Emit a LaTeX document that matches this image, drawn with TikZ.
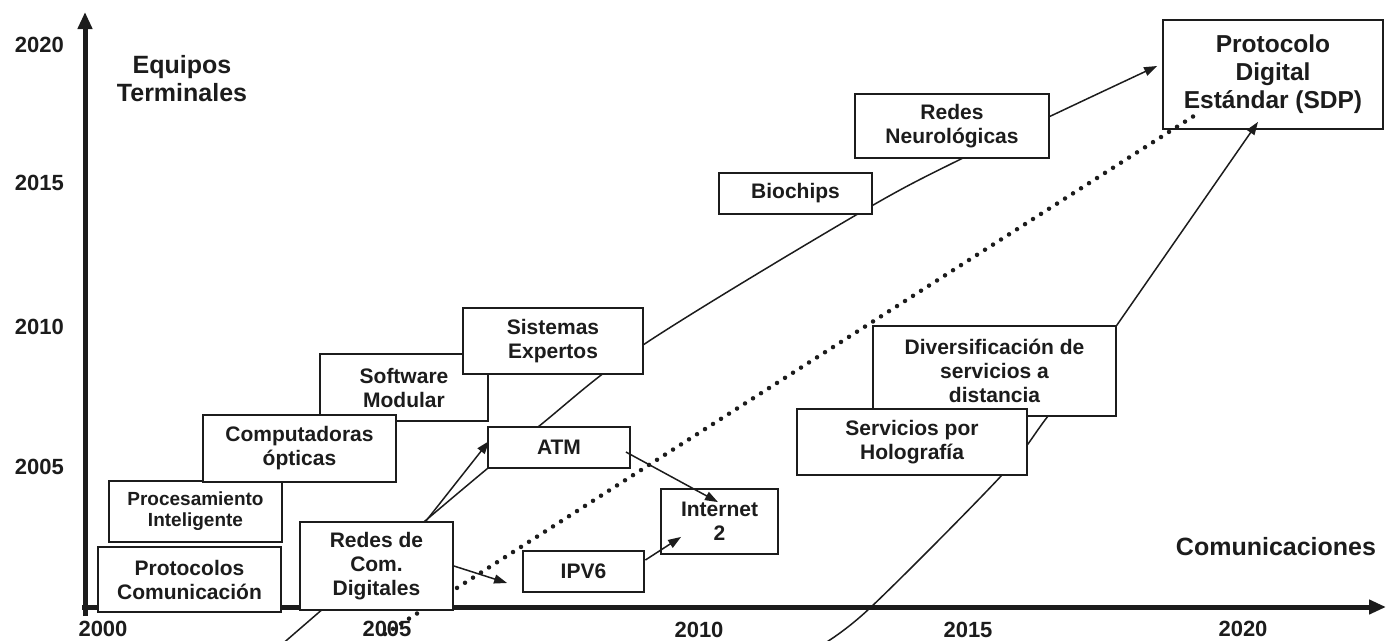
\documentclass[tikz,border=0pt]{standalone}
\usepackage{fontspec}
\setmainfont{Liberation Sans}
\usetikzlibrary{arrows.meta,calc}
\pgfdeclarelayer{background}
\pgfdeclarelayer{foreground}
\pgfsetlayers{background,main,foreground}
\definecolor{ink}{HTML}{1C1C1C}
\tikzset{
  box/.style={draw=ink, fill=white, line width=1.8pt, align=center, inner sep=0pt, text=ink,
    font=\bfseries\fontsize{21}{24}\selectfont},
  conn/.style={draw=ink, line width=1.5pt},
  arr/.style={conn, -{Triangle[length=13pt,width=9pt]}},
  axisline/.style={draw=ink, line width=5pt, -{Triangle[length=17pt,width=14pt]}},
  yearlbl/.style={text=ink, font=\bfseries\fontsize{22}{24}\selectfont, inner sep=0pt},
  biglbl/.style={text=ink, align=center, inner sep=0pt, font=\bfseries\fontsize{25}{28}\selectfont},
  dots/.style={draw=ink, line width=4.5pt, line cap=round, dash pattern=on 0pt off 9.5pt},
}
\begin{document}
\begin{tikzpicture}[x=1pt,y=-1pt]
\useasboundingbox (0,0) rectangle (1386,640);

% labels
\node[yearlbl, anchor=east] (y2020) at (64,45) {2020};
\node[yearlbl, anchor=east] (y2015) at (64,183) {2015};
\node[yearlbl, anchor=east] (y2010) at (64,327) {2010};
\node[yearlbl, anchor=east] (y2005) at (64,467) {2005};
\node[yearlbl] (x2000) at (103,629) {2000};
\node[yearlbl] (x2005) at (387,629) {2005};
\node[yearlbl] (x2010) at (699,630) {2010};
\node[yearlbl] (x2015) at (968,630) {2015};
\node[yearlbl] (x2020) at (1243,629) {2020};
\node[biglbl] (equipos) at (182,79) {Equipos\\Terminales};
\node[biglbl] (comun) at (1276,547) {Comunicaciones};

% boxes
\node[box, minimum width=183pt, minimum height=65pt] (protc) at (189.5,579.5) {Protocolos\\Comunicación};
\node[box, minimum width=173pt, minimum height=61pt, font=\bfseries\fontsize{19}{21}\selectfont] (proc) at (195.5,511.5) {Procesamiento\\Inteligente};
\node[box, minimum width=168pt, minimum height=67pt] (soft) at (404,387.5) {Software\\Modular};
\node[box, minimum width=193pt, minimum height=67pt] (comp) at (299.5,448.5) {Computadoras\\ópticas};
\node[box, minimum width=180pt, minimum height=66pt] (sist) at (553,341) {Sistemas\\Expertos};
\node[box, minimum width=142pt, minimum height=41pt] (atm) at (559,447.5) {ATM};
\node[box, minimum width=121pt, minimum height=41pt] (ipv6) at (583.5,571.5) {IPV6};
\node[box, minimum width=117pt, minimum height=65pt] (inet) at (719.5,521.5) {Internet\\2};
\node[box, minimum width=153pt, minimum height=41pt] (bio) at (795.5,193.5) {Biochips};
\node[box, minimum width=194pt, minimum height=64pt] (rn) at (952,126) {Redes\\Neurológicas};
\node[box, minimum width=220pt, minimum height=109pt, font=\bfseries\fontsize{24.5}{28}\selectfont] (proto) at (1273,74.5) {Protocolo\\Digital\\Estándar (SDP)};
\node[box, minimum width=243pt, minimum height=90pt] (div) at (994.5,371) {Diversificación de\\servicios a\\distancia};
\node[box, minimum width=230pt, minimum height=66pt] (serv) at (912,442) {Servicios por\\Holografía};

% named points
\coordinate (c1a) at (280,646);
\coordinate (c1b) at (425,521);
\coordinate (c1c) at (538,427);
\coordinate (c1d) at (643,345);
\coordinate (c1e) at (856,215);
\coordinate (c1f) at (963,158);
\coordinate (c1end) at ($(proto.west)+(-5,-8.5)$);
\coordinate (c2a) at (820,646);
\coordinate (c2b) at (870,608);
\coordinate (c2c) at (1002,475);
\coordinate (c2d) at (1048,416);
\coordinate (c2end) at ($(proto.south)+(-15,-8)$);
\coordinate (dstart) at (385,634);
\coordinate (dend) at ($(proto.south west)+(35,-16)$);

\begin{pgfonlayer}{background}
  \draw[axisline] (85,616) -- (85,12);
  \draw[axisline] (82,607) -- (1386,607);
  \draw[arr] plot[smooth, tension=0.55] coordinates {(c1a) (c1b) (c1c) (c1d) (c1e) (c1f) (c1end)};
  \draw[conn] plot[smooth, tension=0.55] coordinates {(c2a) (c2b) (c2c) (c2d) (div.north east)};
\end{pgfonlayer}

% dotted trend
\draw[dots] (dstart) -- (dend);

\begin{pgfonlayer}{foreground}
  \node[box, minimum width=153pt, minimum height=88pt] (redes) at (376.5,566) {Redes de\\Com.\\Digitales};
  \draw[arr] ($(redes.north east)+(-28,0)$) -- ($(atm.west)+(2,-6.5)$);
  \draw[arr] (redes.east) -- ($(ipv6.west)+(-15,11.5)$);
  \draw[arr] ($(ipv6.east)+(0.5,-11.5)$) -- ($(inet.south west)+(21,-18)$);
  \draw[arr] ($(atm.east)+(-5,4.5)$) -- ($(inet.north)+(-1.5,14)$);
  \draw[arr] (div.north east) -- (c2end);
\end{pgfonlayer}
\end{tikzpicture}
\end{document}
